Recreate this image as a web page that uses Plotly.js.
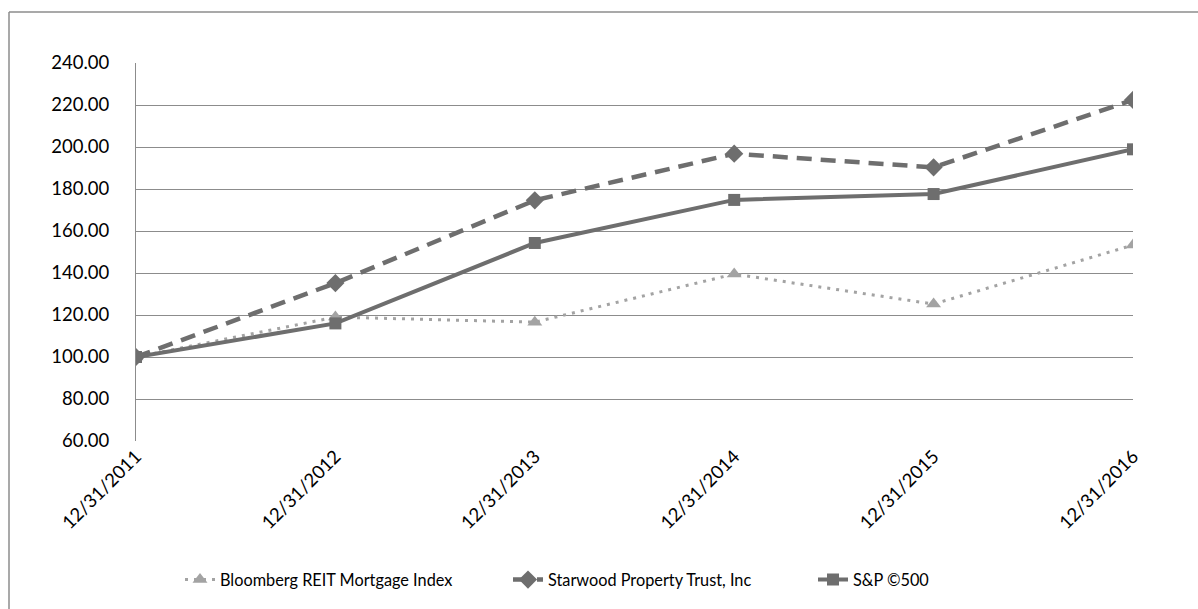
<!DOCTYPE html>
<html>
<head>
<meta charset="utf-8">
<script src="https://cdn.plot.ly/plotly-3.0.1.min.js"></script>
<style>html,body{margin:0;padding:0;background:#fff;}#chart{width:1198px;height:609px;}</style>
</head>
<body>
<div id="chart"></div>
<script>
var dates = ["12/31/2011","12/31/2012","12/31/2013","12/31/2014","12/31/2015","12/31/2016"];
var bloomberg = [100.00, 119.0, 116.6, 139.5, 125.2, 153.3];
var starwood = [100.00, 135.2, 174.6, 196.8, 190.3, 222.4];
var sp500 = [100.00, 116.0, 154.3, 174.8, 177.6, 198.9];
var yTicks = [60,80,100,120,140,160,180,200,220,240];

var darkGray = "#6e6e6e";
var lightGray = "#a3a3a3";

var traces = [
  {x: dates, y: bloomberg, name: "Bloomberg REIT Mortgage Index", type: "scatter", mode: "lines+markers", legend: "legend",
   line: {color: lightGray, width: 3, dash: "3px,6px"}, marker: {symbol: "triangle-up", size: 13, color: lightGray}},
  {x: dates, y: starwood, name: "Starwood Property Trust, Inc", type: "scatter", mode: "lines+markers", legend: "legend2",
   line: {color: darkGray, width: 4.5, dash: "15px,9px"}, marker: {symbol: "diamond", size: 14, color: darkGray}},
  {x: dates, y: sp500, name: "S&P ©500", type: "scatter", mode: "lines+markers", legend: "legend3",
   line: {color: darkGray, width: 4}, marker: {symbol: "square", size: 12, color: darkGray}}
];

var L = 136, R = 1133, T = 63, B = 441;
function px(x){ return (x - L) / (R - L); }
function py(y){ return (B - y) / (B - T); }
function leg(xpx){
  return {orientation: "h", x: px(xpx), xanchor: "left", y: py(580), yanchor: "middle",
          font: {size: 16.3, color: "#000"}, bgcolor: "rgba(0,0,0,0)"};
}

var layout = {
  width: 1198, height: 609,
  margin: {l: L, r: 1198 - R, t: T, b: 609 - B, pad: 0, autoexpand: false},
  paper_bgcolor: "#fff", plot_bgcolor: "#fff",
  font: {family: "Lato, 'Open Sans', sans-serif", size: 18.5, color: "#000"},
  showlegend: true,
  legend: leg(180),
  legend2: leg(508),
  legend3: leg(813),
  xaxis: {type: "category", range: [0, 5], showgrid: false, zeroline: false, showline: false,
          ticks: "", tickangle: -45, tickfont: {size: 18.5}, fixedrange: true, automargin: false},
  yaxis: {range: [60, 240], tickvals: yTicks, ticktext: yTicks.map(function(v){return v.toFixed(2);}),
          showgrid: true, gridcolor: "#8c8c8c", gridwidth: 1, zeroline: false,
          showline: true, linecolor: "#8c8c8c", linewidth: 1, ticks: "", ticklen: 0, tickfont: {size: 18.5},
          ticklabelstandoff: 22, fixedrange: true, automargin: false},
  shapes: [
    {type: "line", xref: "paper", yref: "paper", x0: px(9), x1: px(9), y0: py(12), y1: py(620), line: {color: "#8c8c8c", width: 1.5}},
    {type: "line", xref: "paper", yref: "paper", x0: px(9), x1: px(1210), y0: py(12), y1: py(12), line: {color: "#8c8c8c", width: 1.5}}
  ]
};

Plotly.newPlot("chart", traces, layout, {displayModeBar: false, staticPlot: true});
</script>
</body>
</html>
